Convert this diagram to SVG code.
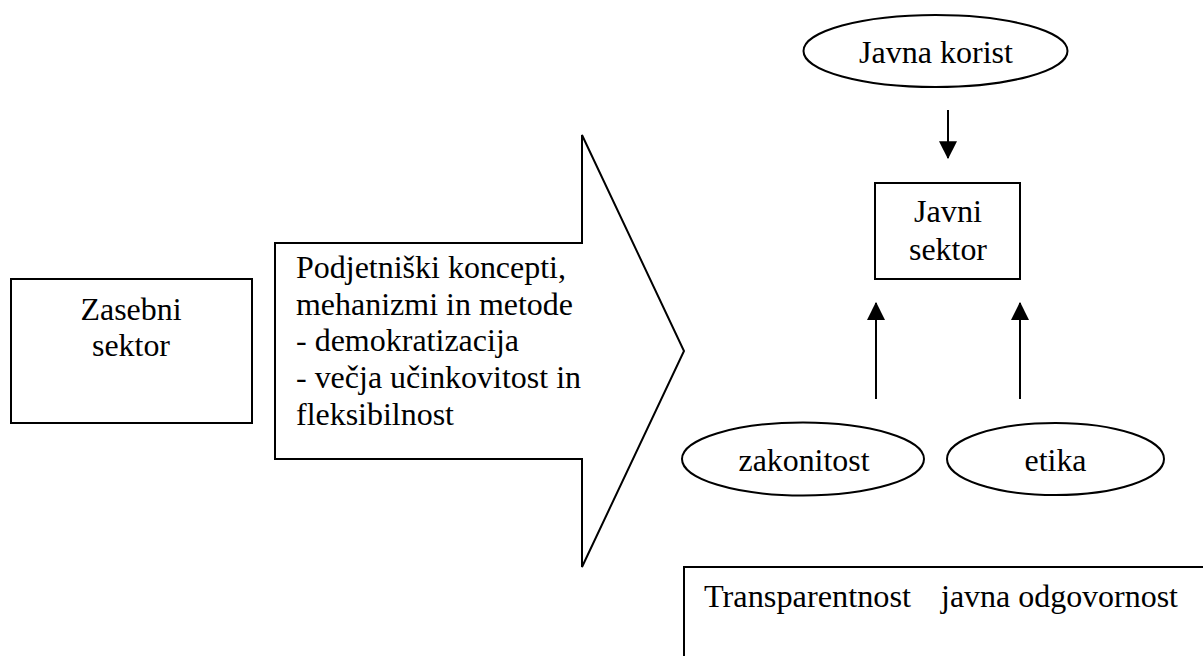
<svg xmlns="http://www.w3.org/2000/svg" width="1203" height="656" viewBox="0 0 1203 656">
<style>
.s{fill:#fff;stroke:#000;stroke-width:2}
.t{font-family:"Liberation Serif","Times New Roman",Times,serif;font-size:32px;fill:#000}
.m{text-anchor:middle}
.c{stroke:#000;stroke-width:2;fill:none}
</style>
<defs>
<marker id="ah" markerUnits="userSpaceOnUse" markerWidth="18" markerHeight="18" viewBox="0 0 16 16" refX="15" refY="8" orient="auto">
<path d="M0,0 L16,8 L0,16 Z" fill="#000"/>
</marker>
</defs>
<rect width="1203" height="656" fill="#fff"/>
<g id="zasebni">
<rect class="s" x="11" y="279" width="241" height="144"/>
<text class="t m" x="131" y="320" textLength="101" lengthAdjust="spacingAndGlyphs">Zasebni</text>
<text class="t m" x="131" y="356" textLength="78" lengthAdjust="spacingAndGlyphs">sektor</text>
</g>
<g id="puscica">
<path class="s" d="M275,243 L582,243 L582,135 L684,351 L582,567 L582,459 L275,459 Z"/>
<text class="t" x="296" y="278" textLength="270" lengthAdjust="spacingAndGlyphs">Podjetniški koncepti,</text>
<text class="t" x="296" y="315" textLength="277" lengthAdjust="spacingAndGlyphs">mehanizmi in metode</text>
<text class="t" x="296" y="351" textLength="223" lengthAdjust="spacingAndGlyphs">- demokratizacija</text>
<text class="t" x="296" y="388" textLength="285" lengthAdjust="spacingAndGlyphs">- večja učinkovitost in</text>
<text class="t" x="296" y="425" textLength="158" lengthAdjust="spacingAndGlyphs">fleksibilnost</text>
</g>
<g id="javna-korist">
<ellipse class="s" cx="935.5" cy="51" rx="132" ry="36"/>
<text class="t m" x="936" y="63" textLength="154" lengthAdjust="spacingAndGlyphs">Javna korist</text>
</g>
<g id="javni-sektor">
<rect class="s" x="875" y="183" width="145" height="96"/>
<text class="t m" x="948" y="222" textLength="68" lengthAdjust="spacingAndGlyphs">Javni</text>
<text class="t m" x="948" y="260" textLength="78" lengthAdjust="spacingAndGlyphs">sektor</text>
</g>
<g id="zakonitost">
<ellipse class="s" cx="803" cy="459" rx="121" ry="36.5"/>
<text class="t m" x="804" y="471" textLength="131" lengthAdjust="spacingAndGlyphs">zakonitost</text>
</g>
<g id="etika">
<ellipse class="s" cx="1055.5" cy="459" rx="108.5" ry="36"/>
<text class="t m" x="1055.5" y="471" textLength="62" lengthAdjust="spacingAndGlyphs">etika</text>
</g>
<g id="transparentnost">
<rect class="s" x="684" y="567" width="540" height="100"/>
<text class="t" x="704" y="607" textLength="207" lengthAdjust="spacingAndGlyphs">Transparentnost</text>
<text class="t" x="941" y="607" textLength="237" lengthAdjust="spacingAndGlyphs">javna odgovornost</text>
</g>
<g id="connectors">
<line class="c" x1="948" y1="110" x2="948" y2="158" marker-end="url(#ah)"/>
<line class="c" x1="876" y1="399" x2="876" y2="303" marker-end="url(#ah)"/>
<line class="c" x1="1020" y1="399" x2="1020" y2="303" marker-end="url(#ah)"/>
</g>
</svg>
